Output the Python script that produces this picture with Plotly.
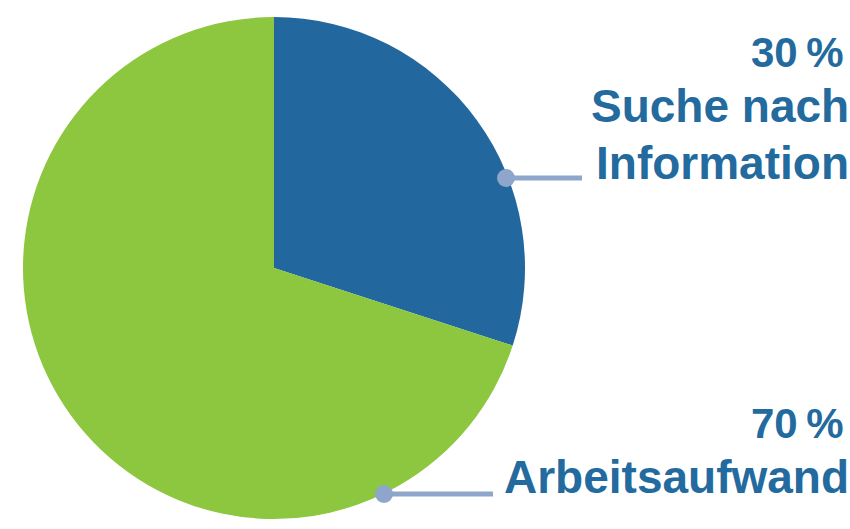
import plotly.graph_objects as go

W, H = 850, 529

labels = ["Suche nach Information", "Arbeitsaufwand"]
values = [30, 70]
colors = ["#22679D", "#8DC63F"]
pct_text = ["30\u2009%", "70\u2009%"]
name_lines = [["Suche nach", "Information"], ["Arbeitsaufwand"]]

# pie geometry in pixels
cx, cy, r = 274, 268, 251

fig = go.Figure(go.Pie(
    labels=labels, values=values, sort=False, direction="clockwise", rotation=0,
    marker=dict(colors=colors, line=dict(width=0)),
    textinfo="none", hoverinfo="label+percent", showlegend=False,
    domain=dict(x=[(cx - r) / W, (cx + r) / W], y=[(H - cy - r) / H, (H - cy + r) / H]),
))

txt_color = "#236A9E"
fam = "Liberation Sans, Arial, sans-serif"
font_name = dict(family=fam, size=46, color=txt_color)
font_pct = dict(family=fam, size=42, color=txt_color)


def px(x):
    return x / W


def py(y):
    return (H - y) / H


annotations = []
blocks = [
    (pct_text[0], name_lines[0], [52, 106, 163]),
    (pct_text[1], name_lines[1], [423, 477]),
]
for pct, names, ys in blocks:
    annotations.append(dict(
        text="<b>%s</b>" % pct, x=px(845), y=py(ys[0]), xref="paper", yref="paper",
        xanchor="right", yanchor="middle", showarrow=False, font=font_pct,
    ))
    for t, y in zip(names, ys[1:]):
        annotations.append(dict(
            text="<b>%s</b>" % t, x=px(851), y=py(y), xref="paper", yref="paper",
            xanchor="right", yanchor="middle", showarrow=False, font=font_name,
        ))

# connectors: dot on pie edge, horizontal line to label
conn_color = "#8EA6CB"
connectors = [((506, 178), 582), ((384, 494), 493)]
shapes = []
dr = 9
for (dx, dy), xend in connectors:
    shapes.append(dict(type="line", xref="paper", yref="paper",
                       x0=px(dx), y0=py(dy), x1=px(xend), y1=py(dy),
                       line=dict(color=conn_color, width=5)))
    shapes.append(dict(type="circle", xref="paper", yref="paper",
                       x0=px(dx - dr), x1=px(dx + dr), y0=py(dy + dr), y1=py(dy - dr),
                       fillcolor=conn_color, line=dict(width=0)))

fig.update_layout(
    width=W, height=H, margin=dict(l=0, r=0, t=0, b=0),
    paper_bgcolor="white", plot_bgcolor="white",
    annotations=annotations, shapes=shapes,
)

fig.write_html("out.html")
